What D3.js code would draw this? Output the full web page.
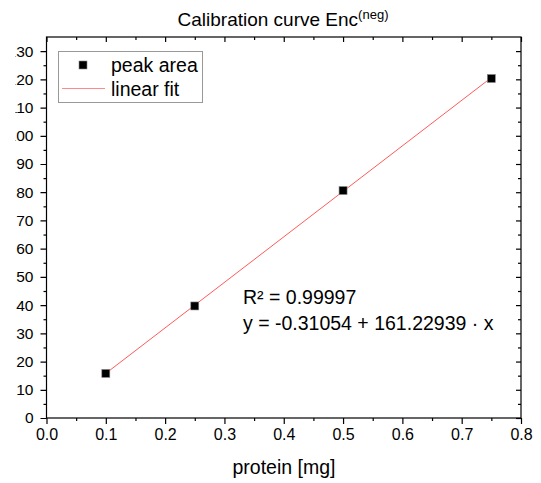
<!DOCTYPE html>
<html>
<head>
<meta charset="utf-8">
<script src="https://cdn.jsdelivr.net/npm/d3@7"></script>
<style>
body { margin: 0; background: #fff; }
text { font-family: "Liberation Sans", Arial, sans-serif; fill: #000; }
</style>
</head>
<body>
<script>
// data
var protein = [0.1, 0.25, 0.5, 0.75];
var peakArea = [15.8, 39.7, 80.6, 120.3];
var fitA = -0.31054, fitB = 161.22939;
var r2Label = "R\u00b2 = 0.99997";
var fitLabel = "y = -0.31054 + 161.22939 \u00b7 x";
var xTicks = [0, 0.1, 0.2, 0.3, 0.4, 0.5, 0.6, 0.7, 0.8];
var yTicks = d3.range(0, 131, 10);

var W = 541, H = 483;
var pLeft = 46.5, pRight = 521, pTop = 37, pBottom = 418;

var svg = d3.select("body").append("svg")
    .attr("width", W).attr("height", H);

var x = d3.scaleLinear().domain([0, 0.8]).range([pLeft, pRight]);
var y = d3.scaleLinear().domain([0, 135]).range([pBottom, pTop]);

// clip for the cut-off left edge of the picture
svg.append("clipPath").attr("id", "edge")
    .append("rect").attr("x", 15.5).attr("y", 0).attr("width", W).attr("height", H);

// frame
svg.append("rect")
    .attr("x", pLeft).attr("y", pTop)
    .attr("width", pRight - pLeft).attr("height", pBottom - pTop)
    .attr("fill", "none").attr("stroke", "#000").attr("stroke-width", 1.2);

function styleAxis(g, fs) {
    g.select(".domain").remove();
    g.selectAll("line").attr("stroke", "#000").attr("stroke-width", 1.2);
    g.selectAll("text").style("font-size", (fs || 16) + "px").style("font-family", "Liberation Sans, Arial, sans-serif");
}

var xMinor = d3.range(0.05, 0.8, 0.1);
var yMinor = d3.range(5, 135, 10);

// bottom
svg.append("g").attr("transform", "translate(0," + pBottom + ")")
    .call(d3.axisBottom(x).tickValues(xTicks).tickFormat(d3.format(".1f")).tickSize(6).tickPadding(5))
    .call(styleAxis);
svg.append("g").attr("transform", "translate(0," + pBottom + ")")
    .call(d3.axisBottom(x).tickValues(xMinor).tickFormat("").tickSize(3))
    .call(styleAxis);
// top (inward)
svg.append("g").attr("transform", "translate(0," + pTop + ")")
    .call(d3.axisBottom(x).tickValues(xTicks).tickFormat("").tickSize(5))
    .call(styleAxis);
svg.append("g").attr("transform", "translate(0," + pTop + ")")
    .call(d3.axisBottom(x).tickValues(xMinor).tickFormat("").tickSize(3))
    .call(styleAxis);
// left
svg.append("g").attr("clip-path", "url(#edge)")
  .append("g").attr("transform", "translate(" + pLeft + ",0)")
    .call(d3.axisLeft(y).tickValues(yTicks).tickFormat(d3.format("d")).tickSize(6).tickPadding(7))
    .call(styleAxis, 15.5);
svg.append("g").attr("transform", "translate(" + pLeft + ",0)")
    .call(d3.axisLeft(y).tickValues(yMinor).tickFormat("").tickSize(3))
    .call(styleAxis);
// right (inward)
svg.append("g").attr("transform", "translate(" + pRight + ",0)")
    .call(d3.axisLeft(y).tickValues(yTicks).tickFormat("").tickSize(5))
    .call(styleAxis);
svg.append("g").attr("transform", "translate(" + pRight + ",0)")
    .call(d3.axisLeft(y).tickValues(yMinor).tickFormat("").tickSize(3))
    .call(styleAxis);

// fit line
var x0 = d3.min(protein), x1 = d3.max(protein);
svg.append("line")
    .attr("x1", x(x0)).attr("y1", y(fitA + fitB * x0))
    .attr("x2", x(x1)).attr("y2", y(fitA + fitB * x1))
    .attr("stroke", "#ff5a5a").attr("stroke-width", 1);

// points
var s = 8;
svg.selectAll("rect.pt").data(protein).enter().append("rect")
    .attr("class", "pt")
    .attr("x", function(d) { return x(d) - s / 2; })
    .attr("y", function(d, i) { return y(peakArea[i]) - s / 2; })
    .attr("width", s).attr("height", s)
    .attr("fill", "#000").attr("stroke", "#888").attr("stroke-width", 0.6);

// title
var title = svg.append("text").attr("x", 283).attr("y", 26)
    .attr("text-anchor", "middle").style("font-size", "19px");
title.append("tspan").text("Calibration curve Enc");
title.append("tspan").attr("dy", -7).style("font-size", "13px").text("(neg)");

// x label
svg.append("text").attr("x", 284).attr("y", 474)
    .attr("text-anchor", "middle").style("font-size", "19.5px")
    .text("protein [mg]");

// legend
svg.append("rect").attr("x", 58.5).attr("y", 51.5).attr("width", 144).attr("height", 51)
    .attr("fill", "#fff").attr("stroke", "#999").attr("stroke-width", 1);
svg.append("rect").attr("x", 79).attr("y", 61).attr("width", 8).attr("height", 8)
    .attr("fill", "#000").attr("stroke", "#888").attr("stroke-width", 0.6);
svg.append("text").attr("x", 111).attr("y", 72).style("font-size", "19.5px").text("peak area");
svg.append("line").attr("x1", 62).attr("x2", 105).attr("y1", 88.5).attr("y2", 88.5)
    .attr("stroke", "#ff8a8a").attr("stroke-width", 1);
svg.append("text").attr("x", 111).attr("y", 96).style("font-size", "19.5px").text("linear fit");

// annotation
svg.append("text").attr("x", 243).attr("y", 304).style("font-size", "19.5px").text(r2Label);
svg.append("text").attr("x", 243).attr("y", 330).style("font-size", "19.5px").text(fitLabel);
</script>
</body>
</html>
